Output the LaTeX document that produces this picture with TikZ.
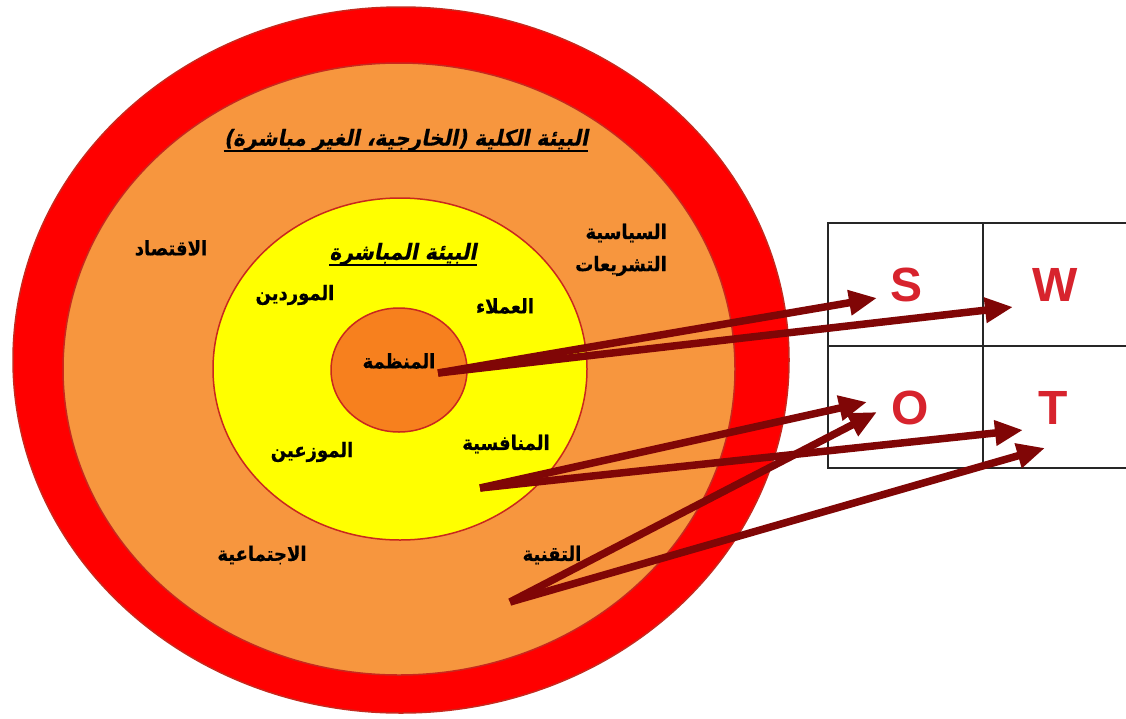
\documentclass[tikz,border=0pt]{standalone}
\usepackage{fontspec}
\usetikzlibrary{arrows.meta}
\TeXXeTstate=1
\newfontfamily\arabicfont[Script=Arabic,FakeStretch=0.9,FakeBold=0.6]{DejaVu Sans Bold}
\newfontfamily\arabicsl[Script=Arabic,FakeSlant=0.2,FakeStretch=0.92,FakeBold=0.6]{DejaVu Sans Bold}
\newfontfamily\latinbold{Liberation Sans Bold}
\definecolor{ringred}{RGB}{255,0,0}
\definecolor{ringline}{RGB}{200,40,30}
\definecolor{orangefill}{RGB}{247,150,62}
\definecolor{yellowfill}{RGB}{255,255,0}
\definecolor{innerfill}{RGB}{247,128,30}
\definecolor{arrowred}{RGB}{128,6,6}
\definecolor{letterred}{RGB}{215,35,45}
\begin{document}
\begin{tikzpicture}[x=1pt,y=-1pt,
  ring/.style={draw=ringline, line width=1.5pt},
  lbl/.style={font=\arabicfont\fontsize{20}{24}\selectfont, inner sep=0pt, text=black},
  ttl/.style={font=\arabicsl\fontsize{22}{26}\selectfont, inner sep=0pt, text=black},
  uline/.style={draw=black, line width=1.8pt},
  letter/.style={font=\latinbold\fontsize{48}{48}\selectfont, text=letterred, inner sep=0pt},
  swarrow/.style={draw=arrowred, line width=7.5pt, -{Triangle[length=28pt,width=24pt]}},
  gridline/.style={draw=black!85, line width=1.3pt}]
\useasboundingbox (0,0) rectangle (1126,718);
\fill[white] (0,0) rectangle (1126,718);
% circles
\draw[ring, fill=ringred] (401,360) ellipse [x radius=388, y radius=353];
\draw[ring, fill=orangefill] (399,369) ellipse [x radius=336, y radius=306];
\draw[ring, fill=yellowfill] (400,369) ellipse [x radius=187, y radius=171];
\draw[ring, fill=innerfill] (399,370) ellipse [x radius=68, y radius=62];
% table
\coordinate (tl) at (828,223);
\coordinate (tm) at (983,223);
\coordinate (tr) at (1126,223);
\coordinate (ml) at (828,346);
\coordinate (mr) at (1126,346);
\coordinate (bl) at (828,468);
\coordinate (bm) at (983,468);
\coordinate (br) at (1126,468);
\draw[gridline] (tr) -- (tl) -- (bl) -- (br);
\draw[gridline] (ml) -- (mr);
\draw[gridline] (tm) -- (bm);
% texts
\node[ttl] (macro) at (406,140) {\beginR البيئة الكلية (الخارجية، الغير مباشرة)\endR};
\draw[uline] ([yshift=-5pt]macro.base west) -- ([yshift=-5pt]macro.base east);
\node[ttl] (micro) at (403,254) {\beginR البيئة المباشرة\endR};
\draw[uline] ([yshift=-5pt]micro.base west) -- ([yshift=-5pt]micro.base east);
\node[lbl] (eco) at (171,248) {\beginR الاقتصاد\endR};
\node[lbl, anchor=east] (pol) at (667,233) {\beginR السياسية\endR};
\node[lbl, anchor=east] (leg) at (667,266) {\beginR التشريعات\endR};
\node[lbl] (sup) at (295,295) {\beginR الموردين\endR};
\node[lbl] (cust) at (505,306) {\beginR العملاء\endR};
\node[lbl] (org) at (399,361) {\beginR المنظمة\endR};
\node[lbl] (dist) at (312,452) {\beginR الموزعين\endR};
\node[lbl] (comp) at (506,444) {\beginR المنافسية\endR};
\node[lbl] (soc) at (262,555) {\beginR الاجتماعية\endR};
\node[lbl] (tech) at (552,555) {\beginR التقنية\endR};
% letters
\node[letter] (S) at (906,285) {S};
\node[letter] (W) at (1055,285) {W};
\node[letter] (O) at (910,408) {O};
\node[letter] (T) at (1053,408) {T};
% arrow ends
\coordinate (orgstart) at (438,373);
\coordinate (compstart) at (480,488);
\coordinate (techstart) at (510,602);
\coordinate (Stip) at (877,298);
\coordinate (Wtip) at (1013,307);
\coordinate (Otip1) at (867,402);
\coordinate (Otip2) at (877,412);
\coordinate (Ttip1) at (1023,430);
\coordinate (Ttip2) at (1045,448);
\draw[swarrow] (orgstart) -- (Stip);
\draw[swarrow] (orgstart) -- (Wtip);
\draw[swarrow] (compstart) -- (Otip1);
\draw[swarrow] (compstart) -- (Ttip1);
\draw[swarrow] (techstart) -- (Otip2);
\draw[swarrow] (techstart) -- (Ttip2);
\end{tikzpicture}
\end{document}
